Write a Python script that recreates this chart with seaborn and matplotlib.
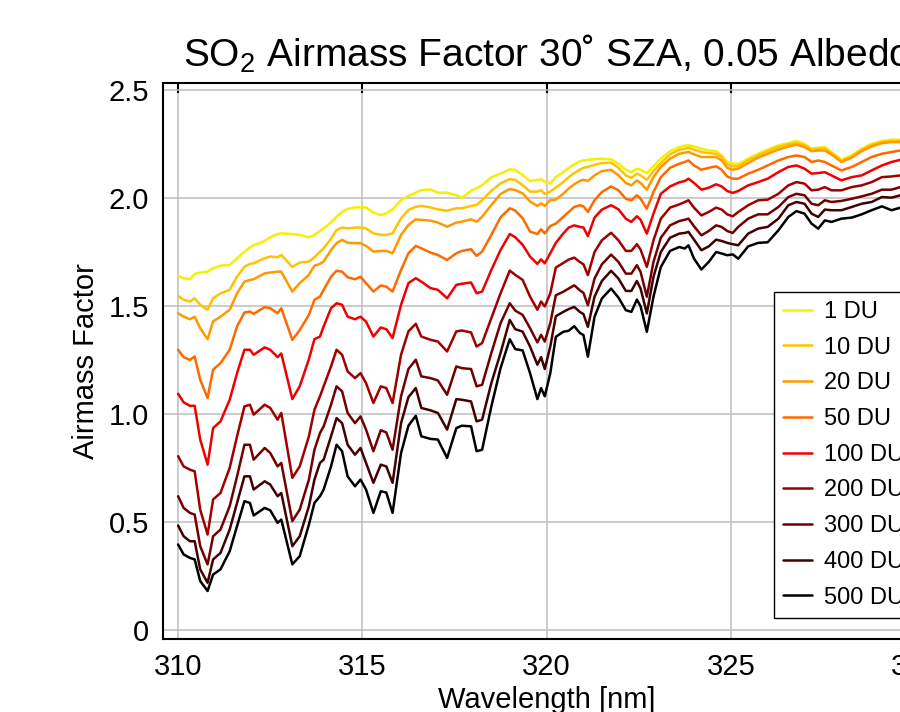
import pandas as pd
import seaborn as sns
import matplotlib
matplotlib.use("Agg")
import matplotlib.pyplot as plt

# wavelength grid [nm]
wavelength = [
    310.0, 310.15, 310.32, 310.45, 310.6, 310.8, 310.95, 311.15, 311.4, 311.6,
    311.8, 311.95, 312.05, 312.35, 312.5, 312.7, 312.8, 313.1, 313.3, 313.55,
    313.7, 313.85, 313.95, 314.15, 314.3, 314.45, 314.6, 314.8, 314.95,
    315.1, 315.3, 315.5, 315.65, 315.82, 316.05, 316.25, 316.45, 316.6, 316.85,
    317.05, 317.3, 317.55, 317.7, 317.95, 318.1, 318.25, 318.5, 318.75, 319.0,
    319.15, 319.35, 319.55, 319.75, 319.85, 319.95, 320.1,
    320.25, 320.45, 320.6, 320.75, 320.9, 321.0, 321.12, 321.3, 321.5, 321.75,
    321.95, 322.15, 322.3, 322.45, 322.55, 322.72, 322.9, 323.1, 323.35, 323.6,
    323.75, 323.85, 324.0, 324.2, 324.4, 324.6, 324.75, 324.9, 325.05,
    325.2, 325.47, 325.74, 326.0, 326.29, 326.56, 326.78, 327.0, 327.19, 327.37,
    327.55, 327.73, 328.0, 328.28, 328.55, 328.82, 329.1, 329.36, 329.6,
]

amf_1du = [
    1.638, 1.628, 1.623, 1.648, 1.654, 1.658, 1.674, 1.686, 1.689, 1.72,
    1.75, 1.77, 1.78, 1.80, 1.817, 1.832, 1.835, 1.832, 1.828, 1.817,
    1.828, 1.846, 1.858, 1.886, 1.912, 1.935, 1.948, 1.955, 1.955,
    1.955, 1.931, 1.92, 1.928, 1.946, 1.989, 2.008, 2.023, 2.035, 2.038,
    2.023, 2.023, 2.012, 2.0, 2.032, 2.043, 2.058, 2.094, 2.112, 2.131,
    2.128, 2.105, 2.077, 2.082, 2.085, 2.074, 2.066,
    2.095, 2.118, 2.138, 2.154, 2.168, 2.172, 2.175, 2.178, 2.18, 2.177,
    2.157, 2.129, 2.118, 2.134, 2.129, 2.114, 2.145, 2.18, 2.215, 2.234,
    2.24, 2.242, 2.237, 2.226, 2.218, 2.215, 2.195, 2.165, 2.157,
    2.157, 2.18, 2.203, 2.222, 2.242, 2.252, 2.262, 2.249, 2.226, 2.231,
    2.234, 2.211, 2.175, 2.195, 2.226, 2.249, 2.262, 2.268, 2.268,
]

amf_10du = [
    1.546, 1.528, 1.52, 1.535, 1.505, 1.482, 1.535, 1.558, 1.574, 1.635,
    1.68, 1.694, 1.697, 1.72, 1.728, 1.725, 1.735, 1.68, 1.70, 1.705,
    1.725, 1.75, 1.766, 1.81, 1.85, 1.862, 1.858, 1.862, 1.862,
    1.858, 1.835, 1.828, 1.828, 1.835, 1.905, 1.943, 1.958, 1.962, 1.955,
    1.946, 1.94, 1.951, 1.951, 1.962, 1.966, 1.989, 2.032, 2.066, 2.086,
    2.082, 2.058, 2.028, 2.028, 2.035, 2.017, 2.028,
    2.046, 2.072, 2.095, 2.114, 2.129, 2.138, 2.142, 2.152, 2.16, 2.162,
    2.138, 2.103, 2.092, 2.111, 2.103, 2.083, 2.123, 2.16, 2.2, 2.222,
    2.226, 2.231, 2.222, 2.211, 2.206, 2.203, 2.188, 2.154, 2.145,
    2.145, 2.172, 2.195, 2.215, 2.234, 2.246, 2.252, 2.242, 2.222, 2.226,
    2.226, 2.206, 2.169, 2.191, 2.222, 2.243, 2.257, 2.262, 2.262,
]

amf_20du = [
    1.466, 1.45, 1.438, 1.45, 1.397, 1.346, 1.428, 1.45, 1.482, 1.558,
    1.612, 1.62, 1.623, 1.65, 1.654, 1.658, 1.658, 1.566, 1.605, 1.643,
    1.686, 1.694, 1.705, 1.758, 1.79, 1.805, 1.792, 1.79, 1.79,
    1.777, 1.751, 1.754, 1.754, 1.743, 1.828, 1.874, 1.9, 1.897, 1.894,
    1.885, 1.866, 1.885, 1.889, 1.9, 1.889, 1.912, 1.966, 2.017, 2.04,
    2.035, 2.02, 1.982, 1.962, 1.974, 1.962, 1.989,
    1.991, 2.018, 2.042, 2.062, 2.077, 2.083, 2.077, 2.103, 2.123, 2.129,
    2.103, 2.068, 2.057, 2.08, 2.068, 2.037, 2.095, 2.142, 2.18, 2.203,
    2.208, 2.212, 2.2, 2.188, 2.188, 2.188, 2.172, 2.138, 2.129,
    2.134, 2.16, 2.185, 2.203, 2.222, 2.237, 2.245, 2.234, 2.215, 2.218,
    2.218, 2.2, 2.165, 2.185, 2.215, 2.237, 2.252, 2.257, 2.257,
]

amf_50du = [
    1.297, 1.263, 1.25, 1.266, 1.158, 1.074, 1.205, 1.235, 1.297, 1.405,
    1.469, 1.474, 1.463, 1.494, 1.489, 1.466, 1.489, 1.343, 1.388, 1.458,
    1.528, 1.543, 1.574, 1.635, 1.662, 1.658, 1.632, 1.623, 1.635,
    1.605, 1.566, 1.594, 1.589, 1.566, 1.666, 1.743, 1.777, 1.766, 1.746,
    1.735, 1.712, 1.743, 1.754, 1.762, 1.731, 1.751, 1.828, 1.909, 1.951,
    1.94, 1.905, 1.843, 1.832, 1.854, 1.835, 1.869,
    1.88, 1.911, 1.934, 1.957, 1.965, 1.96, 1.934, 1.988, 2.026, 2.052,
    2.034, 1.995, 1.988, 2.011, 1.995, 1.949, 2.026, 2.095, 2.138, 2.157,
    2.165, 2.172, 2.149, 2.129, 2.138, 2.145, 2.129, 2.098, 2.088,
    2.088, 2.111, 2.129, 2.149, 2.172, 2.188, 2.195, 2.188, 2.165, 2.172,
    2.165, 2.149, 2.126, 2.142, 2.165, 2.188, 2.203, 2.211, 2.218,
]

amf_100du = [
    1.094, 1.054, 1.038, 1.038, 0.882, 0.766, 0.935, 0.966, 1.066, 1.189,
    1.297, 1.297, 1.274, 1.308, 1.297, 1.263, 1.28, 1.069, 1.128, 1.254,
    1.346, 1.358, 1.405, 1.489, 1.512, 1.505, 1.45, 1.438, 1.45,
    1.427, 1.358, 1.4, 1.392, 1.351, 1.505, 1.605, 1.628, 1.612, 1.582,
    1.574, 1.535, 1.597, 1.602, 1.608, 1.558, 1.566, 1.666, 1.758, 1.832,
    1.817, 1.782, 1.728, 1.694, 1.715, 1.697, 1.743,
    1.791, 1.834, 1.862, 1.872, 1.865, 1.862, 1.822, 1.908, 1.945, 1.965,
    1.946, 1.903, 1.888, 1.914, 1.898, 1.834, 1.926, 2.018, 2.052, 2.071,
    2.077, 2.088, 2.068, 2.037, 2.046, 2.062, 2.052, 2.031, 2.022,
    2.031, 2.057, 2.072, 2.088, 2.118, 2.142, 2.149, 2.134, 2.111, 2.114,
    2.118, 2.103, 2.08, 2.095, 2.103, 2.126, 2.149, 2.165, 2.175,
]

amf_200du = [
    0.805, 0.758, 0.743, 0.735, 0.558, 0.443, 0.605, 0.635, 0.751, 0.897,
    1.035, 1.043, 0.997, 1.043, 1.028, 0.974, 1.005, 0.705, 0.758, 0.897,
    1.02, 1.082, 1.128, 1.22, 1.297, 1.274, 1.197, 1.166, 1.189,
    1.143, 1.051, 1.128, 1.12, 1.051, 1.274, 1.382, 1.417, 1.358, 1.343,
    1.335, 1.289, 1.382, 1.386, 1.377, 1.312, 1.328, 1.443, 1.558, 1.663,
    1.643, 1.62, 1.543, 1.482, 1.52, 1.497, 1.558,
    1.677, 1.698, 1.714, 1.723, 1.703, 1.692, 1.642, 1.749, 1.803, 1.838,
    1.803, 1.754, 1.754, 1.785, 1.76, 1.68, 1.803, 1.903, 1.954, 1.969,
    1.98, 1.988, 1.954, 1.918, 1.934, 1.954, 1.945, 1.923, 1.914,
    1.934, 1.965, 1.988, 1.991, 2.018, 2.057, 2.072, 2.065, 2.034, 2.037,
    2.049, 2.034, 2.034, 2.049, 2.057, 2.072, 2.095, 2.098, 2.103,
]

amf_300du = [
    0.62, 0.566, 0.543, 0.535, 0.389, 0.305, 0.435, 0.466, 0.574, 0.712,
    0.858, 0.858, 0.789, 0.843, 0.82, 0.758, 0.774, 0.505, 0.558, 0.697,
    0.835, 0.912, 0.943, 1.043, 1.128, 1.105, 1.005, 0.958, 0.989,
    0.928, 0.828, 0.925, 0.915, 0.835, 1.082, 1.208, 1.251, 1.174, 1.166,
    1.155, 1.089, 1.22, 1.212, 1.208, 1.128, 1.135, 1.282, 1.42, 1.512,
    1.478, 1.458, 1.397, 1.331, 1.366, 1.335, 1.42,
    1.549, 1.565, 1.58, 1.595, 1.572, 1.56, 1.503, 1.626, 1.692, 1.737,
    1.703, 1.649, 1.649, 1.688, 1.657, 1.542, 1.703, 1.815, 1.872, 1.892,
    1.898, 1.903, 1.868, 1.826, 1.846, 1.872, 1.865, 1.846, 1.837,
    1.865, 1.903, 1.923, 1.923, 1.957, 2.003, 2.018, 2.011, 1.972, 1.965,
    1.988, 1.98, 1.985, 1.995, 2.006, 2.018, 2.037, 2.037, 2.049,
]

amf_400du = [
    0.485, 0.435, 0.412, 0.412, 0.282, 0.22, 0.328, 0.358, 0.466, 0.589,
    0.712, 0.712, 0.651, 0.689, 0.674, 0.62, 0.635, 0.389, 0.435, 0.574,
    0.697, 0.774, 0.789, 0.897, 0.981, 0.958, 0.858, 0.812, 0.843,
    0.774, 0.682, 0.766, 0.758, 0.682, 0.958, 1.078, 1.12, 1.028, 1.017,
    1.005, 0.928, 1.069, 1.066, 1.058, 0.966, 0.974, 1.143, 1.282, 1.435,
    1.392, 1.381, 1.312, 1.228, 1.263, 1.208, 1.312,
    1.452, 1.472, 1.485, 1.495, 1.472, 1.462, 1.403, 1.542, 1.615, 1.662,
    1.626, 1.569, 1.569, 1.615, 1.58, 1.465, 1.634, 1.749, 1.815, 1.834,
    1.837, 1.842, 1.806, 1.757, 1.775, 1.806, 1.8, 1.791, 1.785,
    1.78, 1.834, 1.857, 1.865, 1.903, 1.965, 1.98, 1.972, 1.926, 1.911,
    1.945, 1.942, 1.942, 1.957, 1.972, 1.98, 2.003, 2.0, 2.011,
]

amf_500du = [
    0.397, 0.351, 0.335, 0.328, 0.228, 0.182, 0.258, 0.282, 0.366, 0.482,
    0.597, 0.589, 0.531, 0.566, 0.555, 0.497, 0.512, 0.305, 0.343, 0.489,
    0.589, 0.62, 0.651, 0.758, 0.858, 0.828, 0.712, 0.666, 0.697,
    0.651, 0.543, 0.643, 0.637, 0.543, 0.82, 0.946, 0.992, 0.897, 0.885,
    0.882, 0.797, 0.935, 0.946, 0.943, 0.828, 0.835, 1.035, 1.212, 1.346,
    1.3, 1.294, 1.189, 1.069, 1.12, 1.082, 1.189,
    1.357, 1.38, 1.385, 1.406, 1.375, 1.365, 1.265, 1.449, 1.534, 1.58,
    1.538, 1.48, 1.472, 1.529, 1.498, 1.38, 1.542, 1.68, 1.754, 1.772,
    1.765, 1.78, 1.718, 1.668, 1.703, 1.749, 1.742, 1.734, 1.738,
    1.718, 1.775, 1.791, 1.794, 1.849, 1.911, 1.938, 1.926, 1.88, 1.857,
    1.895, 1.888, 1.903, 1.908, 1.923, 1.942, 1.96, 1.942, 1.954,
]

du_labels = ["1 DU", "10 DU", "20 DU", "50 DU", "100 DU",
             "200 DU", "300 DU", "400 DU", "500 DU"]
line_colors = ["#f2f200", "#ffc300", "#ff9900", "#ff6a00", "#f00000",
               "#a00000", "#720000", "#420000", "#000000"]
series = [amf_1du, amf_10du, amf_20du, amf_50du, amf_100du,
          amf_200du, amf_300du, amf_400du, amf_500du]

# long-form table for seaborn
frames = []
for label, values in zip(du_labels, series):
    frames.append(pd.DataFrame({"wavelength": wavelength, "amf": values, "so2": label}))
df = pd.concat(frames, ignore_index=True)

sns.set_style("white")
plt.rcParams["font.family"] = ["Liberation Sans", "DejaVu Sans"]
plt.rcParams["text.color"] = "black"
plt.rcParams["axes.labelcolor"] = "black"
plt.rcParams["xtick.color"] = "black"
plt.rcParams["ytick.color"] = "black"

fig = plt.figure(figsize=(9, 7.12), dpi=100)
# axes run past the right edge of the figure, as in the reference crop
ax = fig.add_axes([0.1811, 0.1025, 0.8533, 0.7809])

sns.lineplot(data=df, x="wavelength", y="amf", hue="so2", hue_order=du_labels,
             palette=dict(zip(du_labels, line_colors)), estimator=None,
             sort=False, linewidth=1.8, ax=ax)

ax.set_xlim(309.59, 330.43)
ax.set_ylim(-0.04, 2.53)
ax.set_xticks([310, 315, 320, 325, 330])
ax.set_yticks([0, 0.5, 1.0, 1.5, 2.0, 2.5])
ax.set_yticklabels(["0", "0.5", "1.0", "1.5", "2.0", "2.5"])
ax.grid(True, color="#bdbdbd", linewidth=1.1)
ax.set_axisbelow(True)
ax.tick_params(direction="in", length=7, width=1.5, top=True, right=True,
               labelsize=21, pad=10, color="black", labelcolor="black")
for sp in ax.spines.values():
    sp.set_color("black")
    sp.set_linewidth(1.5)

ax.set_xlabel("Wavelength [nm]", fontsize=21, labelpad=4, color="black")
ax.set_ylabel("Airmass Factor", fontsize=21, labelpad=6, color="black")
ax.set_title(r"SO$_\mathregular{2}$ Airmass Factor 30˚ SZA, 0.05 Albedo",
             fontsize=28, pad=12, color="black")

handles, labels = ax.get_legend_handles_labels()
leg = ax.legend(handles, labels, loc="lower left", bbox_to_anchor=(0.7956, 0.0378),
                fontsize=17, frameon=True, fancybox=False, edgecolor="black",
                framealpha=1, handlelength=1.2, handletextpad=0.5,
                labelspacing=0.58, borderpad=0.4, borderaxespad=0)
for txt in leg.get_texts():
    txt.set_color("black")

fig.savefig("out.png", dpi=100)
